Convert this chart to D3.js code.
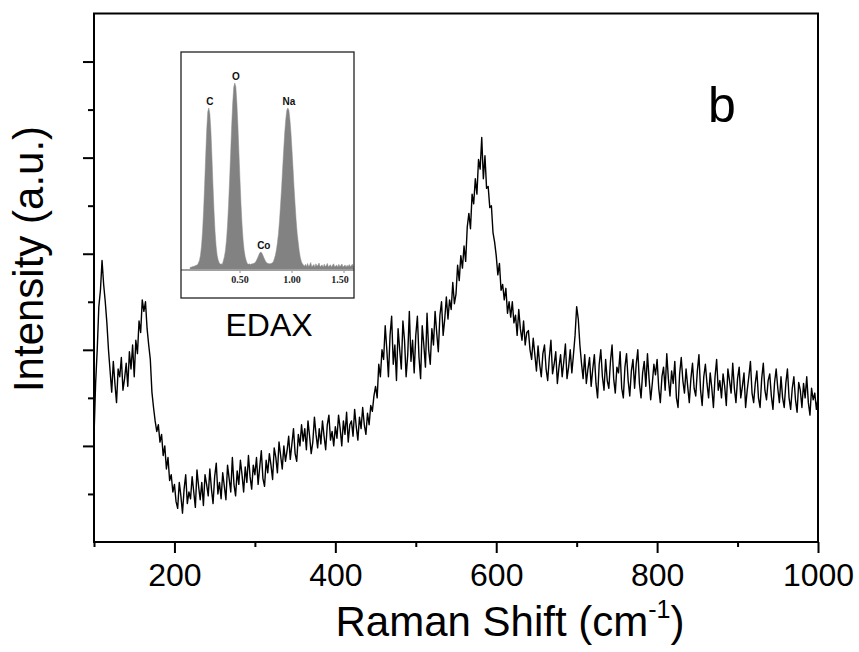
<!DOCTYPE html>
<html><head><meta charset="utf-8">
<script src="https://cdn.jsdelivr.net/npm/d3@7"></script>
<style>body{margin:0;background:#fff;} svg{display:block;font-family:"Liberation Sans",Arial,sans-serif;}</style>
</head><body><svg id="c" width="859" height="652"></svg>
<script>
// ---- Raman spectrum (x from 100 to 1000 cm-1, step 2) ----
const ramanStart = 100, ramanStep = 2;
const ramanIntensity = [
110,165,200,245,262,293,268,250,228,200,
178,156,188,165,145,180,172,192,158,170,
186,162,198,180,205,172,210,196,230,218,
252,240,250,222,205,190,156,140,126,115,
122,104,112,90,100,76,88,64,70,52,
60,42,35,62,48,30,55,70,40,52,
45,68,52,36,75,58,44,62,38,70,
60,48,76,55,40,68,82,50,62,45,
72,58,44,80,66,52,88,60,48,74,
60,85,70,52,78,62,90,68,55,80,
70,88,60,78,95,66,58,85,72,92,
80,65,98,88,72,104,90,76,100,84,
95,110,86,102,118,92,84,112,100,122,
105,118,96,126,110,92,104,130,112,98,
118,102,126,110,96,122,132,106,115,100,
120,108,132,118,100,126,112,135,104,122,
126,110,138,120,106,130,118,140,122,112,
134,122,142,136,152,162,150,185,172,200,
190,225,200,172,215,235,185,205,168,222,
200,180,230,210,172,195,240,188,210,176,
215,235,192,170,225,205,182,238,200,185,
222,205,240,218,198,236,250,215,232,255,
232,252,242,270,248,258,288,272,298,285,
308,292,328,342,326,362,352,378,362,398,
388,421,378,402,368,370,348,350,322,312,
298,278,290,262,268,252,264,238,250,234,
250,228,236,215,242,222,210,230,205,218,
220,200,190,212,195,178,204,185,172,196,
205,180,168,192,210,175,185,198,165,182,
195,172,188,206,170,182,200,176,195,215,
245,232,205,186,170,195,165,180,192,162,
180,195,165,150,185,200,172,158,190,168,
160,188,205,170,155,182,176,198,160,150,
182,196,168,152,178,190,160,185,200,165,
150,176,188,162,196,170,148,165,185,174,
190,160,145,172,182,158,196,170,152,178,
165,188,150,140,175,192,168,155,180,162,
145,170,186,160,152,178,195,158,142,172,
185,165,150,176,160,140,172,190,158,168,
150,175,162,142,180,168,155,186,160,145,
170,182,150,162,176,140,158,172,188,155,
145,165,178,150,140,170,186,158,148,168,
175,152,138,166,180,160,145,172,150,140,
165,180,150,138,160,172,148,135,166,158,
140,165,150,172,145,132,160,148,155,138,150
];
const xDomain = [100, 1000];
const yDomain = [0, 550];
const xMajorTicks = [200, 400, 600, 800, 1000];
const xMinorTicks = [100, 300, 500, 700, 900];
const yMajorTicks = [100, 200, 300, 400, 500];
const yMinorTicks = [50, 150, 250, 350, 450];
const xTitle = "Raman Shift (cm";
const xTitleSup = "-1";
const yTitle = "Intensity (a.u.)";
const panelLabel = "b";

// ---- EDAX inset (keV from 0.02, step 0.01) ----
const edaxStart = 0.02, edaxStep = 0.01;
const edaxCounts = [
8,10,12,14,15,18,20,22,
32,46,74,124,202,314,453,606,748,845,
866,835,745,606,453,314,202,124,74,48,
34,25,28,24,45,66,100,155,236,345,
478,622,770,892,979,1000,979,892,770,622,
478,345,236,155,100,66,45,30,25,28,
24,27,28,30,32,38,48,60,74,86,
92,86,74,60,48,38,32,30,28,28,
30,33,38,55,74,102,142,191,261,345,
436,540,639,733,804,854,866,854,804,733,
639,540,436,345,261,191,142,95,62,40,
28,22,15,25,12,30,14,20,35,12,
18,24,10,28,15,20,32,12,18,22,
10,26,14,19,30,11,17,23,9,20,
28,12,16,21,10,25,13,18,27,11,
15,22,9,20,12,24,14,17,26,12
];
const edaxTicks = [0.5, 1.0, 1.5];
const edaxPeakLabels = ["C", "O", "Co", "Na"];
const edaxPeakKeV = [0.20, 0.45, 0.70, 0.96];
const insetTitle = "EDAX";

// ---- layout ----
const svg = d3.select("#c");
const L = 94, R = 818, T = 13.5, B = 542;
const x = d3.scaleLinear().domain(xDomain).range([L, R]);
const y = d3.scaleLinear().domain(yDomain).range([B, T]);

// spectrum
const line = d3.line()
  .x((d, i) => x(ramanStart + i * ramanStep))
  .y(d => y(d));
svg.append("path").datum(ramanIntensity)
  .attr("d", line).attr("fill", "none").attr("stroke", "#000")
  .attr("stroke-width", 1.4).attr("stroke-linejoin", "round");

// axes
function styleAxis(g) {
  g.select(".domain").remove();
  g.selectAll(".tick line").attr("stroke", "#000").attr("stroke-width", 2);
}
const xMaj = svg.append("g").attr("transform", `translate(0,${B})`)
  .call(d3.axisBottom(x).tickValues(xMajorTicks).tickSize(11).tickPadding(10).tickFormat(d3.format("d")));
styleAxis(xMaj);
xMaj.selectAll("text").attr("font-size", 32).attr("fill", "#000")
  .attr("font-family", '"Liberation Sans",Arial,sans-serif');
const xMin = svg.append("g").attr("transform", `translate(0,${B})`)
  .call(d3.axisBottom(x).tickValues(xMinorTicks).tickSize(5).tickFormat(""));
styleAxis(xMin);
const yMaj = svg.append("g").attr("transform", `translate(${L},0)`)
  .call(d3.axisLeft(y).tickValues(yMajorTicks).tickSize(11).tickFormat(""));
styleAxis(yMaj);
const yMin = svg.append("g").attr("transform", `translate(${L},0)`)
  .call(d3.axisLeft(y).tickValues(yMinorTicks).tickSize(6).tickFormat(""));
styleAxis(yMin);

// frame
svg.append("rect").attr("x", L).attr("y", T).attr("width", R - L).attr("height", B - T)
  .attr("fill", "none").attr("stroke", "#000").attr("stroke-width", 2);

// titles
const xt = svg.append("text").attr("x", (L + R) / 2 + 54).attr("y", 636)
  .attr("text-anchor", "middle").attr("font-size", 42).attr("fill", "#000");
xt.append("tspan").text(xTitle);
xt.append("tspan").text(xTitleSup).attr("font-size", 25).attr("dy", -18);
xt.append("tspan").text(")").attr("font-size", 42).attr("dy", 18);

svg.append("text").attr("transform", "translate(43,259) rotate(-90)")
  .attr("text-anchor", "middle").attr("font-size", 42).attr("fill", "#000").text(yTitle);

svg.append("text").attr("x", 708).attr("y", 122).attr("font-size", 50).attr("fill", "#000").text(panelLabel);

// ---- inset ----
const IL = 181, IR = 354, IT = 52, IB = 298, IBase = 269;
const ix = d3.scaleLinear().domain([0.5, 1.0]).range([240, 292]);
const iy = d3.scaleLinear().domain([0, 1000]).range([IBase, 83]);
svg.append("defs").append("clipPath").attr("id", "ic")
  .append("rect").attr("x", IL).attr("y", IT).attr("width", IR - IL).attr("height", IB - IT);
const ig = svg.append("g").attr("clip-path", "url(#ic)");
const area = d3.area()
  .x((d, i) => ix(edaxStart + i * edaxStep))
  .y0(IBase).y1(d => iy(d));
ig.append("path").datum(edaxCounts).attr("d", area).attr("fill", "#828282").attr("stroke", "#8a8a8a").attr("stroke-width", 0.5);
ig.append("line").attr("x1", IL).attr("x2", IR).attr("y1", IBase + 1).attr("y2", IBase + 1)
  .attr("stroke", "#a0a0a0").attr("stroke-width", 2);
edaxTicks.forEach(v => {
  const px = ix(v);
  ig.append("line").attr("x1", px).attr("x2", px).attr("y1", IBase + 2).attr("y2", IBase + 4)
    .attr("stroke", "#909090").attr("stroke-width", 1);
  const lx = Math.min(px, IR - 14);
  ig.append("text").attr("x", lx).attr("y", 283).attr("text-anchor", "middle")
    .attr("font-family", '"Liberation Serif","Times New Roman",serif').attr("font-weight", "bold")
    .attr("font-size", 10).attr("fill", "#222").text(d3.format(".2f")(v));
});
edaxPeakLabels.forEach((lab, k) => {
  const idx = Math.round((edaxPeakKeV[k] - edaxStart) / edaxStep);
  const top = d3.max(edaxCounts.slice(Math.max(0, idx - 1), idx + 2));
  ig.append("text").attr("x", ix(edaxPeakKeV[k]) + (lab === "Co" ? 3 : 1)).attr("y", iy(top) - 3)
    .attr("text-anchor", "middle").attr("font-weight", "bold").attr("font-size", 10)
    .attr("fill", "#111").text(lab);
});
svg.append("rect").attr("x", IL).attr("y", IT).attr("width", IR - IL).attr("height", IB - IT)
  .attr("fill", "none").attr("stroke", "#222").attr("stroke-width", 1.3);
svg.append("text").attr("x", 269).attr("y", 336).attr("text-anchor", "middle")
  .attr("font-size", 32).attr("fill", "#000").text(insetTitle);
</script>
</body></html>
